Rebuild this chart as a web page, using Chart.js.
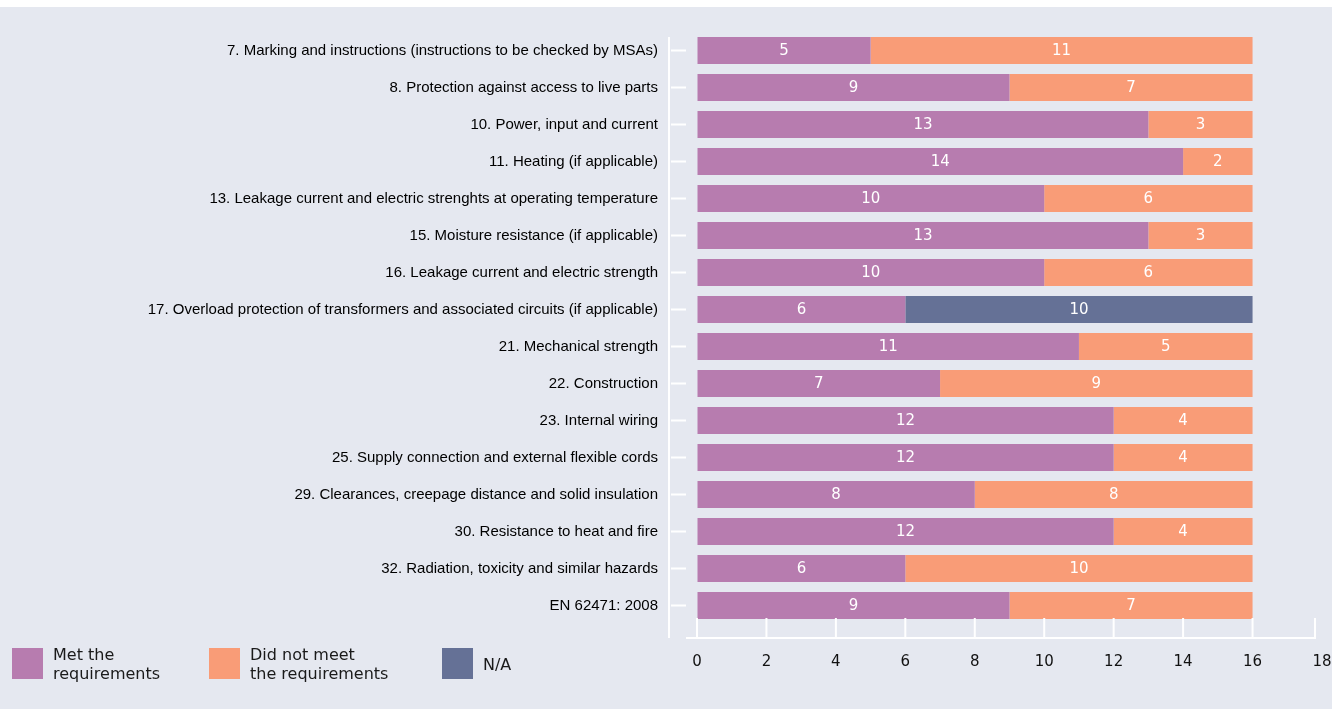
<!DOCTYPE html>
<html>
<head>
<meta charset="utf-8">
<title>EN 62471 / EN 60335 clauses</title>
<script src="https://cdn.jsdelivr.net/npm/chart.js@4.4.1/dist/chart.umd.min.js"></script>
<style>
  html, body { margin: 0; padding: 0; background: #ffffff; }
  #wrap { position: absolute; left: 0; top: 7px; width: 1332px; height: 702px; background: #e5e8f0; overflow: hidden; }
  #chart { position: absolute; left: 0; top: 0; }
  #legend { position: absolute; left: 12px; top: 636px; display: flex; align-items: center;
            font-family: "DejaVu Sans", sans-serif; font-size: 16px; line-height: 19px; color: #1a1a1a; }
  #legend .item { display: flex; align-items: center; }
  #legend .item:nth-child(1) { width: 197px; }
  #legend .item:nth-child(2) { width: 233px; }
  #legend .box { width: 31px; height: 31px; margin-right: 10px; flex: none; }
  #legend .txt { padding-top: 2px; }
</style>
</head>
<body>
<div id="wrap">
  <canvas id="chart" width="1332" height="702"></canvas>
  <div id="legend"></div>
</div>
<script>
const categories = [
  '7. Marking and instructions (instructions to be checked by MSAs)',
  '8. Protection against access to live parts',
  '10. Power, input and current',
  '11. Heating (if applicable)',
  '13. Leakage current and electric strenghts at operating temperature',
  '15. Moisture resistance (if applicable)',
  '16. Leakage current and electric strength',
  '17. Overload protection of transformers and associated circuits (if applicable)',
  '21. Mechanical strength',
  '22. Construction',
  '23. Internal wiring',
  '25. Supply connection and external flexible cords',
  '29. Clearances, creepage distance and solid insulation',
  '30. Resistance to heat and fire',
  '32. Radiation, toxicity and similar hazards',
  'EN 62471: 2008'
];
const met    = [5, 9, 13, 14, 10, 13, 10, 6, 11, 7, 12, 12, 8, 12, 6, 9];
const notMet = [11, 7, 3, 2, 6, 3, 6, null, 5, 9, 4, 4, 8, 4, 10, 7];
const notApplicable = [null, null, null, null, null, null, null, 10, null, null, null, null, null, null, null, null];

const seriesNames = [['Met the', 'requirements'], ['Did not meet', 'the requirements'], ['N/A']];
const seriesColors = ['#b77caf', '#f99c77', '#657196'];

const labelFont = '"Liberation Sans", Arial, sans-serif';
const numFont = '"DejaVu Sans", sans-serif';

// white value labels centred inside each segment
const segmentLabels = {
  id: 'segmentLabels',
  afterDatasetsDraw(chart) {
    const ctx = chart.ctx;
    ctx.save();
    ctx.fillStyle = '#ffffff';
    ctx.font = '15px ' + numFont;
    ctx.textAlign = 'center';
    ctx.textBaseline = 'middle';
    chart.data.datasets.forEach((ds, i) => {
      chart.getDatasetMeta(i).data.forEach((bar, j) => {
        const v = ds.data[j];
        if (v == null) return;
        const p = bar.getProps(['x', 'y', 'base'], true);
        ctx.fillText(String(v), (p.x + p.base) / 2, p.y + 1);
      });
    });
    ctx.restore();
  }
};

// detached white axis lines with short tick marks
const axisLines = {
  id: 'axisLines',
  afterDraw(chart) {
    const ctx = chart.ctx;
    const area = chart.chartArea;
    const xs = chart.scales.x;
    const ys = chart.scales.y;
    ctx.save();
    ctx.strokeStyle = '#ffffff';
    ctx.lineWidth = 2;
    ctx.beginPath();
    const yLineX = area.left - 28;
    ctx.moveTo(yLineX, area.top + 5);
    ctx.lineTo(yLineX, area.bottom + 14);
    ys.ticks.forEach((t, i) => {
      const py = ys.getPixelForTick(i);
      ctx.moveTo(area.left - 26, py);
      ctx.lineTo(area.left - 11, py);
    });
    const xLineY = area.bottom + 14;
    const xEnd = xs.getPixelForValue(xs.max) - 7;
    ctx.moveTo(area.left - 11, xLineY);
    ctx.lineTo(xEnd + 1, xLineY);
    xs.ticks.forEach((t) => {
      const px = Math.min(xs.getPixelForValue(t.value), xEnd);
      ctx.moveTo(px, xLineY);
      ctx.lineTo(px, xLineY - 20);
    });
    ctx.stroke();
    ctx.restore();
  }
};

const data = {
  labels: categories,
  datasets: [
    { label: seriesNames[0].join(' '), data: met, backgroundColor: seriesColors[0] },
    { label: seriesNames[1].join(' '), data: notMet, backgroundColor: seriesColors[1] },
    { label: seriesNames[2].join(' '), data: notApplicable, backgroundColor: seriesColors[2] }
  ]
};

const config = {
  type: 'bar',
  data: data,
  options: {
    indexAxis: 'y',
    responsive: false,
    animation: false,
    barPercentage: 0.73,
    categoryPercentage: 1,
    layout: { padding: { top: 25, right: 10, bottom: 25, left: 0 } },
    scales: {
      x: {
        stacked: true,
        min: 0,
        max: 18,
        // invisible tick marks push the labels down without widening the side padding
        grid: { display: true, drawOnChartArea: false, drawTicks: true, tickLength: 29, tickColor: 'rgba(0,0,0,0)' },
        border: { display: false },
        ticks: { stepSize: 2, padding: 0, color: '#111111', font: { family: numFont, size: 15 } },
        afterFit: (scale) => { scale.height = 60; }
      },
      y: {
        stacked: true,
        grid: { display: true, drawOnChartArea: false, drawTicks: true, tickLength: 39, tickColor: 'rgba(0,0,0,0)' },
        border: { display: false },
        ticks: { padding: 0, color: '#000000', font: { family: labelFont, size: 15 } },
        afterFit: (scale) => { scale.width = 697; }
      }
    },
    plugins: {
      legend: { display: false },
      tooltip: { enabled: false }
    }
  },
  plugins: [segmentLabels, axisLines]
};

const myChart = new Chart(document.getElementById('chart'), config);

// legend with two-line captions
const legendEl = document.getElementById('legend');
seriesNames.forEach((lines, i) => {
  const item = document.createElement('div');
  item.className = 'item';
  const box = document.createElement('span');
  box.className = 'box';
  box.style.background = seriesColors[i];
  const txt = document.createElement('span');
  txt.className = 'txt';
  txt.innerHTML = lines.join('<br>');
  item.appendChild(box);
  item.appendChild(txt);
  legendEl.appendChild(item);
});
</script>
</body>
</html>
